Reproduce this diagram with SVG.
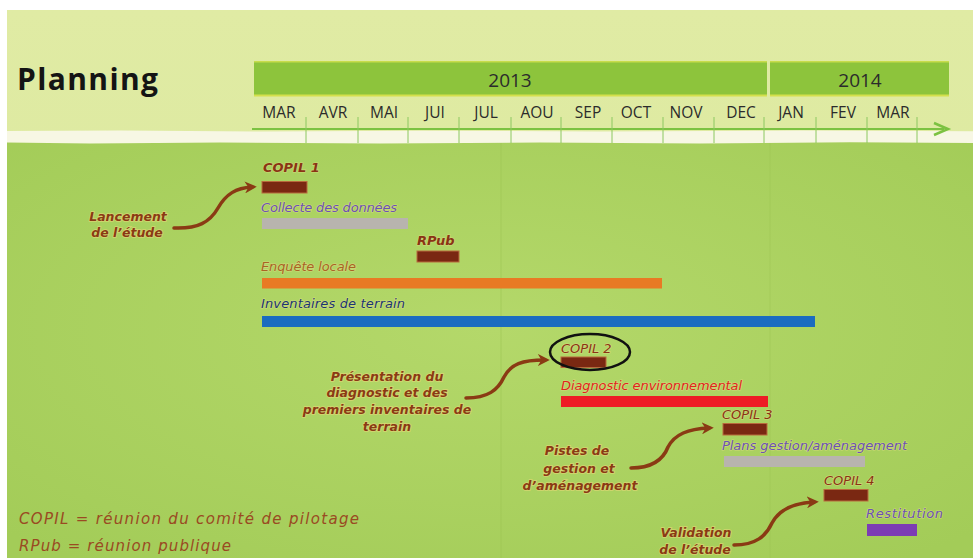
<svg xmlns="http://www.w3.org/2000/svg" width="973" height="558" viewBox="0 0 973 558">
<defs>
<style>
.month{font-family:"Open Sans","Liberation Sans",sans-serif;font-size:15.5px;fill:#2b2b2b;text-anchor:middle}
.year{font-family:"Open Sans","Liberation Sans",sans-serif;font-size:19px;fill:#2b2b2b;text-anchor:middle}
.hand{font-family:"DejaVu Sans","Liberation Sans",sans-serif;font-style:italic;font-size:13px;paint-order:stroke;stroke:#e6e08a;stroke-width:1.2px;stroke-opacity:0.6}
.ann{font-family:"DejaVu Sans","Liberation Sans",sans-serif;font-style:italic;font-weight:bold;font-size:12.5px;fill:#8a3a14;text-anchor:middle;paint-order:stroke;stroke:#e8d878;stroke-width:1.6px;stroke-opacity:0.7}
.copil{fill:#8a3414}
.ms{fill:#7a2812;stroke:#b86a3c;stroke-width:1}
.tick{stroke:#8cc860;stroke-width:1}
.conn{fill:none;stroke:#8a3a14;stroke-width:3.5;stroke-linecap:round;marker-end:url(#ah)}
</style>
<marker id="ah" viewBox="0 0 10 10" refX="6" refY="5" markerWidth="12" markerHeight="12" markerUnits="userSpaceOnUse" orient="auto">
<path d="M0,0 L10,5 L0,10 L3,5 z" fill="#8a3a14"/>
</marker>
<linearGradient id="gtop" x1="0" y1="0" x2="0" y2="1">
<stop offset="0" stop-color="#e0eba4"/>
<stop offset="1" stop-color="#d8e79a"/>
</linearGradient>
<radialGradient id="gbot" cx="0.5" cy="0.45" r="0.7">
<stop offset="0" stop-color="#b4d86a"/>
<stop offset="1" stop-color="#a3cc58"/>
</radialGradient>
</defs>

<!-- background -->
<rect x="0" y="0" width="973" height="558" fill="#ffffff"/>
<rect x="7" y="10" width="966" height="548" fill="url(#gtop)"/>
<rect x="7" y="141" width="966" height="417" fill="url(#gbot)"/>
<path d="M7,131 L120,130.5 L260,131.5 L420,130.8 L600,131.4 L800,130.6 L973,131.2 L973,143 L850,142.2 L700,143.4 L540,142.5 L380,143.6 L220,142.4 L90,143.5 L7,142.6 Z" fill="#f7f7e4"/>
<line x1="501" y1="143" x2="501" y2="558" stroke="#9ec654" stroke-width="1" opacity="0.6"/>
<line x1="770" y1="143" x2="770" y2="558" stroke="#9ec654" stroke-width="1" opacity="0.5"/>

<g id="title">
<text x="17" y="90" font-family="Open Sans, Liberation Sans, sans-serif" font-weight="bold" font-size="30" fill="#141414" textLength="141">Planning</text>
</g>

<g id="header">
<rect x="254" y="61" width="513" height="35" fill="#8dc43c"/>
<rect x="254" y="61" width="513" height="1.5" fill="#c8dc4c"/>
<rect x="254" y="94.5" width="513" height="2" fill="#d4e04c"/>
<rect x="770" y="61" width="179" height="35" fill="#8dc43c"/>
<rect x="770" y="61" width="179" height="1.5" fill="#c8dc4c"/>
<rect x="770" y="94.5" width="179" height="2" fill="#d4e04c"/>
<text class="year" x="510" y="87">2013</text>
<text class="year" x="860" y="87">2014</text>
</g>

<g id="axis">
<line x1="252" y1="129" x2="944" y2="129" stroke="#7cc242" stroke-width="2.2"/>
<path d="M934,123 L948,129 L934,135" fill="none" stroke="#7cc242" stroke-width="2.5"/>
<g class="ticks">
<line class="tick" x1="306" y1="117" x2="306" y2="143"/>
<line class="tick" x1="358" y1="117" x2="358" y2="143"/>
<line class="tick" x1="408" y1="117" x2="408" y2="143"/>
<line class="tick" x1="459" y1="117" x2="459" y2="143"/>
<line class="tick" x1="511" y1="117" x2="511" y2="143"/>
<line class="tick" x1="561" y1="117" x2="561" y2="143"/>
<line class="tick" x1="612" y1="117" x2="612" y2="143"/>
<line class="tick" x1="663" y1="117" x2="663" y2="143"/>
<line class="tick" x1="714" y1="117" x2="714" y2="143"/>
<line class="tick" x1="764" y1="117" x2="764" y2="143"/>
<line class="tick" x1="816" y1="117" x2="816" y2="143"/>
<line class="tick" x1="867" y1="117" x2="867" y2="143"/>
<line class="tick" x1="917" y1="117" x2="917" y2="143"/>
</g>
<text class="month" x="279" y="118">MAR</text>
<text class="month" x="333" y="118">AVR</text>
<text class="month" x="384" y="118">MAI</text>
<text class="month" x="435" y="118">JUI</text>
<text class="month" x="486" y="118">JUL</text>
<text class="month" x="537" y="118">AOU</text>
<text class="month" x="588" y="118">SEP</text>
<text class="month" x="636" y="118">OCT</text>
<text class="month" x="686" y="118">NOV</text>
<text class="month" x="741" y="118">DEC</text>
<text class="month" x="791" y="118">JAN</text>
<text class="month" x="843" y="118">FEV</text>
<text class="month" x="893" y="118">MAR</text>
</g>

<g id="copil1">
<text class="hand copil" x="263" y="172" font-weight="bold">COPIL 1</text>
<rect class="ms" x="262" y="181.5" width="45" height="11.5"/>
</g>
<g id="collecte">
<text class="hand" x="261" y="212" fill="#6a52b4" textLength="136">Collecte des données</text>
<rect x="262" y="218" width="146" height="11" fill="#b8b4ae"/>
</g>
<g id="rpub">
<text class="hand copil" x="417" y="245" font-weight="bold">RPub</text>
<rect class="ms" x="417" y="251" width="42" height="11"/>
</g>
<g id="enquete">
<text class="hand" x="261" y="271" fill="#a86424" textLength="95">Enquête locale</text>
<rect x="262" y="278" width="400" height="10.5" fill="#e87a24"/>
</g>
<g id="inventaires">
<text class="hand" x="261" y="308" fill="#1a3672" textLength="144">Inventaires de terrain</text>
<rect x="262" y="316" width="553" height="11" fill="#1a6cc0"/>
</g>
<g id="copil2">
<text class="hand copil" x="561" y="353" fill="#8a3414" font-size="14">COPIL 2</text>
<rect class="ms" x="561" y="357" width="45" height="10.5"/>
<ellipse cx="590" cy="352" rx="40" ry="18" fill="none" stroke="#111" stroke-width="2.5"/>
</g>
<g id="diagnostic">
<text class="hand" x="561" y="390" fill="#e0241c" textLength="181">Diagnostic environnemental</text>
<rect x="561" y="396" width="207" height="11" fill="#ee1c25"/>
</g>
<g id="copil3">
<text class="hand copil" x="722" y="419" font-size="14">COPIL 3</text>
<rect class="ms" x="723" y="423.5" width="44" height="11.5"/>
</g>
<g id="plans">
<text class="hand" x="722" y="450" fill="#6a52b4" textLength="185">Plans gestion/aménagement</text>
<rect x="724" y="456" width="141" height="11" fill="#b8b4ae"/>
</g>
<g id="copil4">
<text class="hand copil" x="824" y="485" font-size="14">COPIL 4</text>
<rect class="ms" x="824" y="489.5" width="44" height="11.5"/>
</g>
<g id="restitution">
<text class="hand" x="866" y="518" fill="#6a52b4" textLength="77">Restitution</text>
<rect x="867" y="524" width="50" height="12" fill="#7c3cb4"/>
</g>

<g id="ann-lancement">
<text class="ann" x="128" y="221">Lancement</text>
<text class="ann" x="127" y="237">de l’étude</text>
</g>
<g id="ann-presentation">
<text class="ann" x="387" y="381">Présentation du</text>
<text class="ann" x="387" y="397">diagnostic et des</text>
<text class="ann" x="387" y="414">premiers inventaires de</text>
<text class="ann" x="387" y="431">terrain</text>
</g>
<g id="ann-pistes">
<text class="ann" x="577" y="455">Pistes de</text>
<text class="ann" x="579" y="473">gestion et</text>
<text class="ann" x="580" y="490">d’aménagement</text>
</g>
<g id="ann-validation">
<text class="ann" x="696" y="537">Validation</text>
<text class="ann" x="695" y="554">de l’étude</text>
</g>

<g id="legend">
<text x="19" y="524" font-family="DejaVu Sans, Liberation Sans, sans-serif" font-style="italic" font-size="15" fill="#9a4a22" textLength="340">COPIL = réunion du comité de pilotage</text>
<text x="19" y="551" font-family="DejaVu Sans, Liberation Sans, sans-serif" font-style="italic" font-size="15" fill="#9a4a22" textLength="212">RPub = réunion publique</text>
</g>

<g id="connectors">
<path class="conn" d="M174,228 C198,229 210,222 218,208 C226,194 236,188 252,187"/>
<path class="conn" d="M466,398 C488,398 498,390 504,377 C511,364 522,360 545,360"/>
<path class="conn" d="M631,468 C652,468 663,460 668,447 C675,434 688,429 709,428"/>
<path class="conn" d="M734,545 C756,545 766,536 772,523 C779,510 792,503 814,502"/>
</g>
</svg>
